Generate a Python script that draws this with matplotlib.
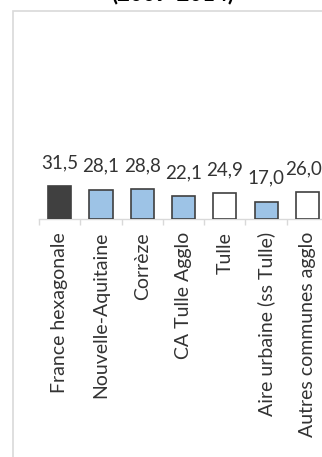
import matplotlib
matplotlib.use("Agg")
import matplotlib.pyplot as plt
from matplotlib.patches import Rectangle
import numpy as np

categories = ["France hexagonale", "Nouvelle-Aquitaine", "Corrèze", "CA Tulle Agglo",
              "Tulle", "Aire urbaine (ss Tulle)", "Autres communes agglo"]
values = [31.5, 28.1, 28.8, 22.1, 24.9, 17.0, 26.0]
labels = ["31,5", "28,1", "28,8", "22,1", "24,9", "17,0", "26,0"]
face_colors = ["#404040", "#9DC3E6", "#9DC3E6", "#9DC3E6", "#FFFFFF", "#9DC3E6", "#FFFFFF"]
title = "(2009-2014)"

plt.rcParams['font.family'] = ['Lato', 'DejaVu Sans']

W, H = 322, 457
fig = plt.figure(figsize=(W / 100, H / 100), dpi=100)

# outer chart border
fig.patches.append(Rectangle((13 / W, -0.1), 1.2, 1 - 10.5 / H + 0.1, transform=fig.transFigure,
                             fill=False, edgecolor="#d9d9d9", linewidth=1.2, zorder=0))

fig.text(173 / W, 1 - 0.5 / H, title, ha="center", va="baseline", fontsize=16,
         fontweight="bold", color="#000000")

ax_left, ax_bottom = 39 / W, (H - 219.5) / H
ax_w = 7 * 41.3 / W
ax_h = (219.5 - 20) / H
ax = fig.add_axes([ax_left, ax_bottom, ax_w, ax_h])
ax.set_facecolor("none")

x = np.arange(len(categories))
ax.bar(x, values, width=0.56, color=face_colors, edgecolor="#404040", linewidth=1.2, zorder=3)
n = len(categories)
for xi, v, lab in zip(x, values, labels):
    dx = -2.5 if xi == n - 1 else 0
    ax.annotate(lab, (xi, v), xytext=(dx, 11), textcoords="offset points",
                ha="center", va="bottom", fontsize=13.5, color="#333333", annotation_clip=False)

ax.set_xlim(-0.5, n - 0.5)
ax.set_ylim(0, 190)
for s in ["top", "right", "left"]:
    ax.spines[s].set_visible(False)
ax.spines["bottom"].set_color("#d9d9d9")
ax.spines["bottom"].set_linewidth(1)
ax.set_yticks([])
ax.set_xticks(x)
ax.set_xticklabels(categories, rotation=90, fontsize=14, color="#333333")
ax.tick_params(axis="x", which="major", length=0, pad=9)
ax.set_xticks(np.arange(-0.5, n, 1.0), minor=True)
ax.tick_params(axis="x", which="minor", length=4.5, color="#d9d9d9", width=1)

fig.savefig("out.png", dpi=100)
